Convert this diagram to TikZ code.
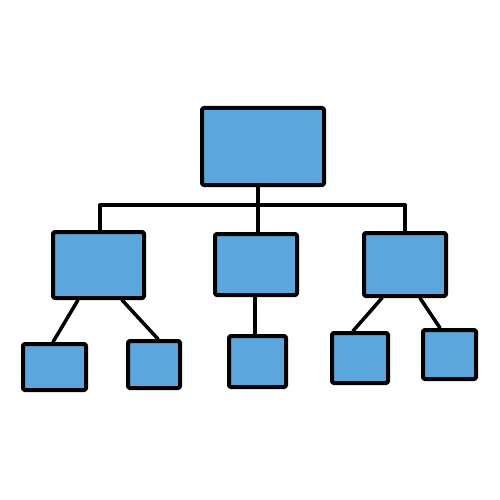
\documentclass[tikz,border=0pt]{standalone}
\usetikzlibrary{backgrounds}
\begin{document}
\begin{tikzpicture}[x=1pt,y=-1pt,
  boxfill/.style={draw=black,fill=boxblue,line width=4pt,rounded corners=1.5pt,inner sep=0pt,line join=round},
  wire/.style={draw=black,line width=3.5pt,line cap=round}]
\definecolor{boxblue}{RGB}{91,167,221}
\useasboundingbox (0,0) rectangle (500,500);
\node[boxfill,minimum width=122pt,minimum height=77pt] (top) at (263,146.5) {};
\node[boxfill,minimum width=91pt,minimum height=66pt] (ml) at (98.5,265) {};
\node[boxfill,minimum width=82pt,minimum height=61pt] (mc) at (256,264.5) {};
\node[boxfill,minimum width=82pt,minimum height=63pt] (mr) at (405,264.5) {};
\node[boxfill,minimum width=63pt,minimum height=46pt] (ll) at (54.5,367) {};
\node[boxfill,minimum width=52pt,minimum height=47pt] (lr) at (154,364.5) {};
\node[boxfill,minimum width=57pt,minimum height=51pt] (cc) at (257.5,361.5) {};
\node[boxfill,minimum width=56pt,minimum height=50pt] (rl) at (360,358) {};
\node[boxfill,minimum width=53pt,minimum height=49pt] (rr) at (449.5,354.5) {};
\coordinate (bl) at (100,205);
\coordinate (bc) at (258,205);
\coordinate (br) at (405,205);
\begin{scope}[on background layer]
\path[wire] (bl) -- (br);
\path[wire] (top.south -| bc) -- (bc);
\path[wire] (bl) -- (bl |- ml.north);
\path[wire] (bc) -- (bc |- mc.north);
\path[wire] (br) -- (br |- mr.north);
\path[wire] ([xshift=-20.5pt]ml.south) -- ([xshift=-1.5pt]ll.north);
\path[wire] ([xshift=23.5pt]ml.south) -- ([xshift=4pt]lr.north);
\path[wire] ([xshift=-1pt]mc.south) -- ([xshift=-2.5pt]cc.north);
\path[wire] ([xshift=-23pt]mr.south) -- ([xshift=-7pt]rl.north);
\path[wire] ([xshift=15pt]mr.south) -- ([xshift=-9.5pt]rr.north);
\end{scope}
\end{tikzpicture}
\end{document}
